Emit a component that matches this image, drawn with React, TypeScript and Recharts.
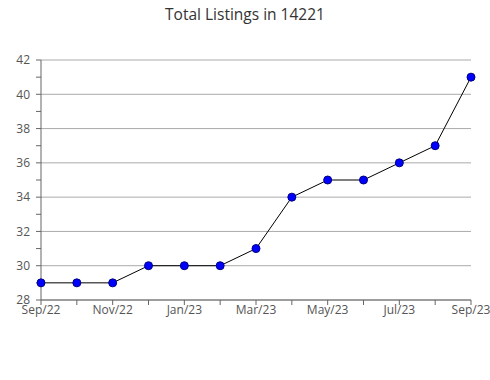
import React from "react";
import { LineChart, Line, XAxis, YAxis, CartesianGrid } from "recharts";

const months = ["Sep/22", "Oct/22", "Nov/22", "Dec/22", "Jan/23", "Feb/23", "Mar/23", "Apr/23", "May/23", "Jun/23", "Jul/23", "Aug/23", "Sep/23"];
const listings = [29, 29, 29, 30, 30, 30, 31, 34, 35, 35, 36, 37, 41];
const yTicks = [28, 29, 30, 31, 32, 33, 34, 35, 36, 37, 38, 39, 40, 41, 42];
const yGrid = [28, 30, 32, 34, 36, 38, 40, 42];

const data = months.map((m, i) => ({ idx: i, month: m, value: listings[i] }));
const xTicks = months.map((_, i) => i);

export default function App() {
  return (
    <div style={{ position: "absolute", left: 0, top: 0, width: 490, height: 380, background: "#fff", fontFamily: "'Open Sans', sans-serif" }}>
      <div style={{ position: "absolute", top: 3, left: 0, width: 490, textAlign: "center", fontSize: 15.5, color: "#333" }}>
        Total Listings in 14221
      </div>
      <LineChart width={490} height={380} data={data} margin={{ top: 60, right: 19, left: 0, bottom: 0 }}>
        <CartesianGrid vertical={false} horizontalValues={yGrid} stroke="#aaa" strokeWidth={1} />
        <XAxis
          dataKey="idx"
          type="number"
          domain={[0, 12]}
          ticks={xTicks}
          interval={0}
          tickFormatter={(v: number) => (v % 2 === 0 ? months[v] : "")}
          height={80}
          axisLine={{ stroke: "#666" }}
          tickLine={{ stroke: "#666" }}
          tickSize={5}
          tickMargin={0}
          tick={{ fill: "#555", fontSize: 12, fontFamily: "'Open Sans', sans-serif" }}
        />
        <YAxis
          type="number"
          domain={[28, 42]}
          ticks={yTicks}
          interval={0}
          tickFormatter={(v: number) => (v % 2 === 0 ? String(v) : "")}
          width={41}
          axisLine={{ stroke: "#666" }}
          tickLine={{ stroke: "#666" }}
          tickSize={5}
          tickMargin={6}
          tick={{ fill: "#555", fontSize: 12, fontFamily: "'Open Sans', sans-serif" }}
        />
        <Line
          type="linear"
          dataKey="value"
          stroke="#000"
          strokeWidth={1}
          dot={{ r: 4, fill: "#0000ff", stroke: "#000080", strokeWidth: 1 }}
          isAnimationActive={false}
        />
      </LineChart>
    </div>
  );
}
